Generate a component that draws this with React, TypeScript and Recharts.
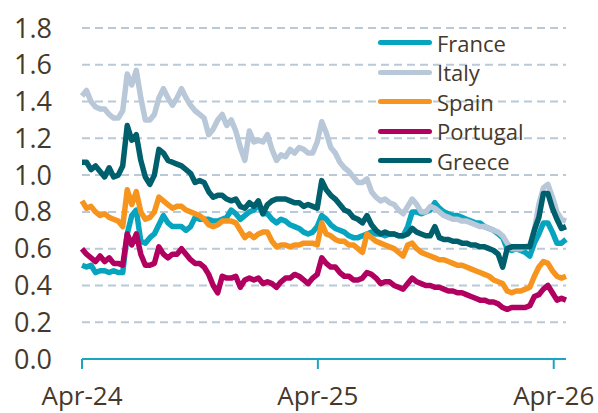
import { LineChart, Line, XAxis, YAxis, CartesianGrid, Legend } from 'recharts'

// weekly observations, starting first week of April 2024
const FRANCE = [
  0.51, 0.50, 0.51, 0.47, 0.48, 0.48, 0.47, 0.48, 0.47, 0.47,
  0.68, 0.78, 0.81, 0.64, 0.63, 0.66, 0.68, 0.73, 0.78, 0.74,
  0.72, 0.72, 0.72, 0.70, 0.72, 0.77, 0.76, 0.76, 0.76, 0.75,
  0.75, 0.76, 0.77, 0.81, 0.79, 0.76, 0.78, 0.80, 0.81, 0.84,
  0.79, 0.79, 0.76, 0.74, 0.76, 0.75, 0.73, 0.72, 0.71, 0.69,
  0.68, 0.69, 0.72, 0.78, 0.76, 0.73, 0.71, 0.70, 0.69, 0.67,
  0.66, 0.66, 0.67, 0.68, 0.69, 0.68, 0.68, 0.67, 0.68, 0.68,
  0.67, 0.67, 0.72, 0.80, 0.80, 0.79, 0.80, 0.81, 0.85, 0.82,
  0.80, 0.79, 0.78, 0.78, 0.77, 0.76, 0.75, 0.74, 0.74, 0.72,
  0.71, 0.70, 0.68, 0.66, 0.60, 0.59, 0.60, 0.59, 0.58, 0.56,
  0.63, 0.68, 0.74, 0.74, 0.69, 0.63, 0.63, 0.65,
]
const ITALY = [
  1.43, 1.46, 1.40, 1.37, 1.36, 1.36, 1.33, 1.31, 1.31, 1.35,
  1.55, 1.49, 1.57, 1.42, 1.30, 1.30, 1.33, 1.42, 1.47, 1.42,
  1.38, 1.42, 1.47, 1.42, 1.38, 1.35, 1.33, 1.31, 1.22, 1.25,
  1.30, 1.33, 1.27, 1.30, 1.24, 1.15, 1.08, 1.24, 1.18, 1.19,
  1.18, 1.22, 1.14, 1.08, 1.11, 1.10, 1.14, 1.12, 1.15, 1.14,
  1.12, 1.12, 1.18, 1.29, 1.23, 1.15, 1.12, 1.07, 1.04, 1.02,
  0.99, 0.96, 0.96, 0.98, 0.91, 0.88, 0.86, 0.87, 0.85, 0.84,
  0.81, 0.79, 0.83, 0.87, 0.84, 0.80, 0.80, 0.83, 0.82, 0.80,
  0.78, 0.77, 0.76, 0.76, 0.75, 0.75, 0.74, 0.73, 0.72, 0.72,
  0.71, 0.70, 0.69, 0.67, 0.63, 0.60, 0.60, 0.60, 0.61, 0.62,
  0.70, 0.84, 0.93, 0.95, 0.88, 0.80, 0.76, 0.75,
]
const SPAIN = [
  0.86, 0.82, 0.83, 0.80, 0.78, 0.79, 0.77, 0.76, 0.75, 0.72,
  0.92, 0.84, 0.91, 0.80, 0.76, 0.77, 0.80, 0.88, 0.86, 0.84,
  0.82, 0.83, 0.83, 0.81, 0.80, 0.79, 0.78, 0.76, 0.73, 0.72,
  0.73, 0.75, 0.75, 0.75, 0.74, 0.70, 0.66, 0.68, 0.66, 0.68,
  0.69, 0.69, 0.64, 0.61, 0.62, 0.62, 0.61, 0.62, 0.62, 0.63,
  0.63, 0.63, 0.62, 0.74, 0.68, 0.67, 0.65, 0.64, 0.64, 0.62,
  0.62, 0.60, 0.58, 0.68, 0.66, 0.64, 0.63, 0.62, 0.61, 0.60,
  0.58, 0.56, 0.62, 0.63, 0.60, 0.58, 0.57, 0.56, 0.55, 0.54,
  0.54, 0.53, 0.52, 0.51, 0.51, 0.50, 0.49, 0.48, 0.47, 0.46,
  0.45, 0.43, 0.42, 0.41, 0.37, 0.36, 0.37, 0.37, 0.38, 0.39,
  0.45, 0.50, 0.53, 0.52, 0.48, 0.45, 0.44, 0.45,
]
const PORTUGAL = [
  0.60, 0.57, 0.55, 0.53, 0.56, 0.53, 0.55, 0.52, 0.52, 0.51,
  0.68, 0.62, 0.68, 0.57, 0.51, 0.51, 0.52, 0.61, 0.57, 0.55,
  0.57, 0.57, 0.60, 0.57, 0.54, 0.52, 0.52, 0.50, 0.46, 0.40,
  0.36, 0.45, 0.44, 0.44, 0.45, 0.39, 0.43, 0.44, 0.43, 0.44,
  0.41, 0.42, 0.41, 0.39, 0.42, 0.44, 0.44, 0.46, 0.45, 0.43,
  0.41, 0.44, 0.46, 0.55, 0.52, 0.50, 0.50, 0.47, 0.45, 0.45,
  0.43, 0.43, 0.44, 0.47, 0.46, 0.44, 0.41, 0.42, 0.42, 0.40,
  0.39, 0.38, 0.41, 0.44, 0.42, 0.41, 0.40, 0.40, 0.39, 0.39,
  0.38, 0.37, 0.37, 0.36, 0.36, 0.35, 0.34, 0.33, 0.32, 0.32,
  0.31, 0.31, 0.30, 0.28, 0.27, 0.28, 0.28, 0.28, 0.28, 0.29,
  0.34, 0.35, 0.38, 0.40, 0.36, 0.32, 0.33, 0.32,
]
const GREECE = [
  1.07, 1.07, 1.03, 1.05, 1.02, 0.99, 1.04, 0.99, 1.00, 1.05,
  1.27, 1.19, 1.22, 1.08, 0.99, 0.95, 1.00, 1.14, 1.12, 1.08,
  1.07, 1.06, 1.05, 1.03, 1.01, 0.96, 0.97, 0.96, 0.91, 0.88,
  0.89, 0.89, 0.87, 0.86, 0.87, 0.83, 0.82, 0.85, 0.83, 0.86,
  0.79, 0.84, 0.86, 0.87, 0.87, 0.87, 0.86, 0.85, 0.85, 0.83,
  0.84, 0.83, 0.82, 0.97, 0.92, 0.89, 0.87, 0.84, 0.81, 0.80,
  0.77, 0.76, 0.74, 0.78, 0.73, 0.70, 0.68, 0.69, 0.68, 0.68,
  0.67, 0.67, 0.68, 0.71, 0.69, 0.68, 0.67, 0.67, 0.72, 0.66,
  0.65, 0.65, 0.64, 0.64, 0.63, 0.63, 0.62, 0.62, 0.61, 0.61,
  0.60, 0.59, 0.57, 0.50, 0.60, 0.61, 0.61, 0.61, 0.61, 0.61,
  0.70, 0.77, 0.90, 0.90, 0.82, 0.76, 0.71, 0.72,
]

const X_TICKS = [0, 365, 730]
const X_LABELS = ['Apr-24', 'Apr-25', 'Apr-26']
const Y_TICKS = [0, 0.2, 0.4, 0.6, 0.8, 1.0, 1.2, 1.4, 1.6, 1.8]

const SERIES = [
  { key: 'France', color: '#06a4bf' },
  { key: 'Italy', color: '#b8c8d8' },
  { key: 'Spain', color: '#f7941d' },
  { key: 'Portugal', color: '#b1005f' },
  { key: 'Greece', color: '#005f6c' },
]

const data = FRANCE.map((v, i) => ({
  day: i * 7,
  France: v,
  Italy: ITALY[i],
  Spain: SPAIN[i],
  Portugal: PORTUGAL[i],
  Greece: GREECE[i],
}))

const TEXT = '#45392b'
const FONT = '"Open Sans", sans-serif'

function ChartLegend() {
  return (
    <div style={{ fontFamily: FONT, fontSize: 22, color: TEXT }}>
      {SERIES.map((s) => (
        <div key={s.key} style={{ display: 'flex', alignItems: 'center', height: 29.5 }}>
          <span style={{ width: 54, height: 5, borderRadius: 3, background: s.color, marginRight: 5 }} />
          <span>{s.key}</span>
        </div>
      ))}
    </div>
  )
}

export default function App() {
  return (
    <div style={{ position: 'absolute', left: 0, top: 0, background: '#fff' }}>
      <LineChart width={598} height={413} data={data} margin={{ top: 28, right: 32, left: 0, bottom: 0 }}>
        <CartesianGrid vertical={false} stroke="#b9c9d8" strokeWidth={2} strokeDasharray="8 5" />
        <XAxis
          dataKey="day"
          type="number"
          domain={[0, 749]}
          ticks={X_TICKS}
          tickFormatter={(v: number) => X_LABELS[X_TICKS.indexOf(v)]}
          height={54}
          axisLine={{ stroke: '#1aa5c0', strokeWidth: 2 }}
          tickLine={{ stroke: '#1aa5c0', strokeWidth: 2 }}
          tickSize={10}
          tickMargin={18}
          tick={{ fontSize: 26, fill: TEXT, fontFamily: FONT }}
          interval={0}
        />
        <YAxis
          domain={[0, 1.8]}
          ticks={Y_TICKS}
          width={82}
          axisLine={false}
          tickLine={false}
          tickSize={0}
          tickMargin={30}
          tickFormatter={(v: number) => v.toFixed(1)}
          tick={{ fontSize: 27, fill: TEXT, fontFamily: FONT }}
          interval={0}
        />
        <Legend
          layout="horizontal"
          verticalAlign="middle"
          align="center"
          content={() => <ChartLegend />}
          wrapperStyle={{ position: 'absolute', left: 378, top: 28, width: 200 }}
        />
        {SERIES.map((s) => (
          <Line
            key={s.key}
            type="linear"
            dataKey={s.key}
            stroke={s.color}
            strokeWidth={5.5}
            strokeLinejoin="round"
            dot={false}
            isAnimationActive={false}
          />
        ))}
      </LineChart>
    </div>
  )
}
